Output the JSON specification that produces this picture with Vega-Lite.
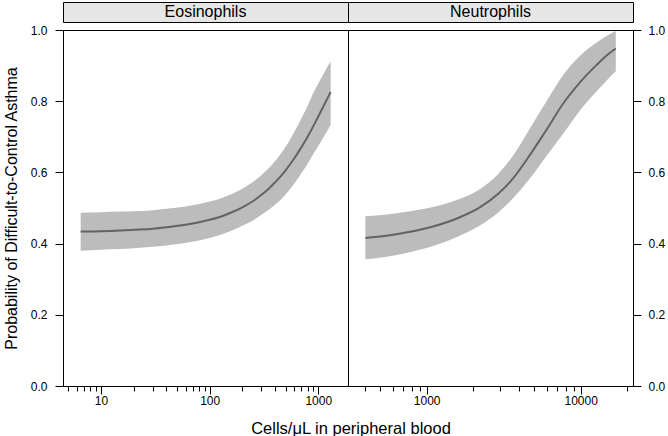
{
  "$schema": "https://vega.github.io/schema/vega-lite/v6.json",
  "padding": {"left": 2, "top": 1, "right": 5, "bottom": 2},
  "background": "white",
  "config": {
    "font": "Liberation Sans",
    "view": {"stroke": "black", "strokeWidth": 1},
    "axis": {"grid": false, "domain": false, "labelFont": "Liberation Sans", "labelFontSize": 12, "labelColor": "black", "tickColor": "black", "titleFont": "Liberation Sans", "titleFontSize": 16, "titleFontWeight": "normal", "titleColor": "black"}
  },
  "title": {"text": "Cells/μL in peripheral blood", "orient": "bottom", "anchor": "middle", "fontSize": 16.5, "fontWeight": "normal", "font": "Liberation Sans", "color": "black", "offset": 14, "dx": 17},
  "datasets": {
    "eos": [
      {"x": 6.5, "fit": 0.434, "lower": 0.380, "upper": 0.487},
      {"x": 10, "fit": 0.435, "lower": 0.383, "upper": 0.488},
      {"x": 15, "fit": 0.437, "lower": 0.385, "upper": 0.490},
      {"x": 20, "fit": 0.439, "lower": 0.387, "upper": 0.491},
      {"x": 30, "fit": 0.442, "lower": 0.391, "upper": 0.494},
      {"x": 40, "fit": 0.446, "lower": 0.395, "upper": 0.498},
      {"x": 60, "fit": 0.453, "lower": 0.402, "upper": 0.504},
      {"x": 80, "fit": 0.460, "lower": 0.409, "upper": 0.511},
      {"x": 100, "fit": 0.467, "lower": 0.416, "upper": 0.518},
      {"x": 130, "fit": 0.477, "lower": 0.426, "upper": 0.528},
      {"x": 160, "fit": 0.488, "lower": 0.437, "upper": 0.539},
      {"x": 200, "fit": 0.502, "lower": 0.450, "upper": 0.554},
      {"x": 250, "fit": 0.519, "lower": 0.465, "upper": 0.573},
      {"x": 300, "fit": 0.537, "lower": 0.481, "upper": 0.593},
      {"x": 350, "fit": 0.554, "lower": 0.495, "upper": 0.612},
      {"x": 400, "fit": 0.572, "lower": 0.509, "upper": 0.632},
      {"x": 450, "fit": 0.589, "lower": 0.523, "upper": 0.652},
      {"x": 500, "fit": 0.606, "lower": 0.538, "upper": 0.672},
      {"x": 600, "fit": 0.639, "lower": 0.568, "upper": 0.713},
      {"x": 700, "fit": 0.671, "lower": 0.598, "upper": 0.752},
      {"x": 800, "fit": 0.701, "lower": 0.625, "upper": 0.788},
      {"x": 900, "fit": 0.730, "lower": 0.652, "upper": 0.823},
      {"x": 1000, "fit": 0.757, "lower": 0.674, "upper": 0.850},
      {"x": 1100, "fit": 0.782, "lower": 0.695, "upper": 0.873},
      {"x": 1200, "fit": 0.805, "lower": 0.715, "upper": 0.894},
      {"x": 1300, "fit": 0.826, "lower": 0.734, "upper": 0.912}
    ],
    "neu": [
      {"x": 400, "fit": 0.416, "lower": 0.356, "upper": 0.477},
      {"x": 550, "fit": 0.422, "lower": 0.363, "upper": 0.482},
      {"x": 780, "fit": 0.433, "lower": 0.376, "upper": 0.491},
      {"x": 1100, "fit": 0.448, "lower": 0.393, "upper": 0.503},
      {"x": 1600, "fit": 0.472, "lower": 0.420, "upper": 0.524},
      {"x": 2200, "fit": 0.501, "lower": 0.450, "upper": 0.552},
      {"x": 2900, "fit": 0.539, "lower": 0.487, "upper": 0.595},
      {"x": 3650, "fit": 0.584, "lower": 0.528, "upper": 0.648},
      {"x": 4700, "fit": 0.650, "lower": 0.584, "upper": 0.725},
      {"x": 6000, "fit": 0.720, "lower": 0.646, "upper": 0.800},
      {"x": 7800, "fit": 0.797, "lower": 0.712, "upper": 0.877},
      {"x": 9900, "fit": 0.853, "lower": 0.774, "upper": 0.928},
      {"x": 12700, "fit": 0.902, "lower": 0.828, "upper": 0.965},
      {"x": 15000, "fit": 0.931, "lower": 0.862, "upper": 0.985},
      {"x": 16900, "fit": 0.948, "lower": 0.884, "upper": 0.997}
    ]
  },
  "spacing": 0,
  "vconcat": [
    {
      "spacing": 0,
      "bounds": "flush",
      "hconcat": [
        {
          "width": 285, "height": 20,
          "view": {"fill": "#e6e6e6", "stroke": "black"},
          "data": {"values": [{"panel": "Eosinophils"}]},
          "mark": {"type": "text", "fontSize": 16, "font": "Liberation Sans", "color": "black"},
          "encoding": {"text": {"field": "panel"}}
        },
        {
          "width": 285, "height": 20,
          "view": {"fill": "#e6e6e6", "stroke": "black"},
          "data": {"values": [{"panel": "Neutrophils"}]},
          "mark": {"type": "text", "fontSize": 16, "font": "Liberation Sans", "color": "black"},
          "encoding": {"text": {"field": "panel"}}
        }
      ]
    },
    {
      "spacing": 0,
      "bounds": "flush",
      "hconcat": [
        {
          "width": 285, "height": 356,
          "data": {"name": "eos"},
          "encoding": {
            "x": {"field": "x", "type": "quantitative",
              "scale": {"type": "log", "domain": [4.47, 1877], "nice": false},
              "axis": {"title": null, "values": [5,6,7,8,9,10,20,30,40,50,60,70,80,90,100,200,300,400,500,600,700,800,900,1000],
                "labelExpr": "datum.value == 10 || datum.value == 100 || datum.value == 1000 ? format(datum.value, 'd') : ''",
                "tickSize": {"condition": {"test": "datum.value == 10 || datum.value == 100 || datum.value == 1000", "value": 8}, "value": 5},
                "labelPadding": 1, "labelFlush": false, "labelOverlap": false}}
          },
          "layer": [
            {
              "mark": {"type": "area", "color": "#bcbcbc", "interpolate": "monotone"},
              "encoding": {
                "y": {"field": "lower", "type": "quantitative", "scale": {"domain": [0, 1], "nice": false},
                  "axis": {"title": "Probability of Difficult-to-Control Asthma", "values": [0, 0.2, 0.4, 0.6, 0.8, 1], "format": ".1f", "tickSize": 8, "labelPadding": 8, "titlePadding": 11}},
                "y2": {"field": "upper"}
              }
            },
            {
              "mark": {"type": "line", "color": "#636363", "strokeWidth": 2, "interpolate": "monotone"},
              "encoding": {
                "y": {"field": "fit", "type": "quantitative",
                  "axis": {"title": "Probability of Difficult-to-Control Asthma", "values": [0, 0.2, 0.4, 0.6, 0.8, 1], "format": ".1f", "tickSize": 8, "labelPadding": 8, "titlePadding": 11}}
              }
            }
          ]
        },
        {
          "width": 285, "height": 356,
          "data": {"name": "neu"},
          "encoding": {
            "x": {"field": "x", "type": "quantitative",
              "scale": {"type": "log", "domain": [308.4, 21860], "nice": false},
              "axis": {"title": null, "values": [400,500,600,700,800,900,1000,2000,3000,4000,5000,6000,7000,8000,9000,10000,20000],
                "labelExpr": "datum.value == 1000 || datum.value == 10000 ? format(datum.value, 'd') : ''",
                "tickSize": {"condition": {"test": "datum.value == 1000 || datum.value == 10000", "value": 8}, "value": 5},
                "labelPadding": 1, "labelFlush": false, "labelOverlap": false}}
          },
          "layer": [
            {
              "mark": {"type": "area", "color": "#bcbcbc", "interpolate": "monotone"},
              "encoding": {
                "y": {"field": "lower", "type": "quantitative", "scale": {"domain": [0, 1], "nice": false},
                  "axis": {"orient": "right", "title": null, "values": [0, 0.2, 0.4, 0.6, 0.8, 1], "format": ".1f", "tickSize": 8, "labelPadding": 7}},
                "y2": {"field": "upper"}
              }
            },
            {
              "mark": {"type": "line", "color": "#636363", "strokeWidth": 2, "interpolate": "monotone"},
              "encoding": {
                "y": {"field": "fit", "type": "quantitative",
                  "axis": {"orient": "right", "title": null, "values": [0, 0.2, 0.4, 0.6, 0.8, 1], "format": ".1f", "tickSize": 8, "labelPadding": 7}}
              }
            }
          ]
        }
      ]
    }
  ]
}
